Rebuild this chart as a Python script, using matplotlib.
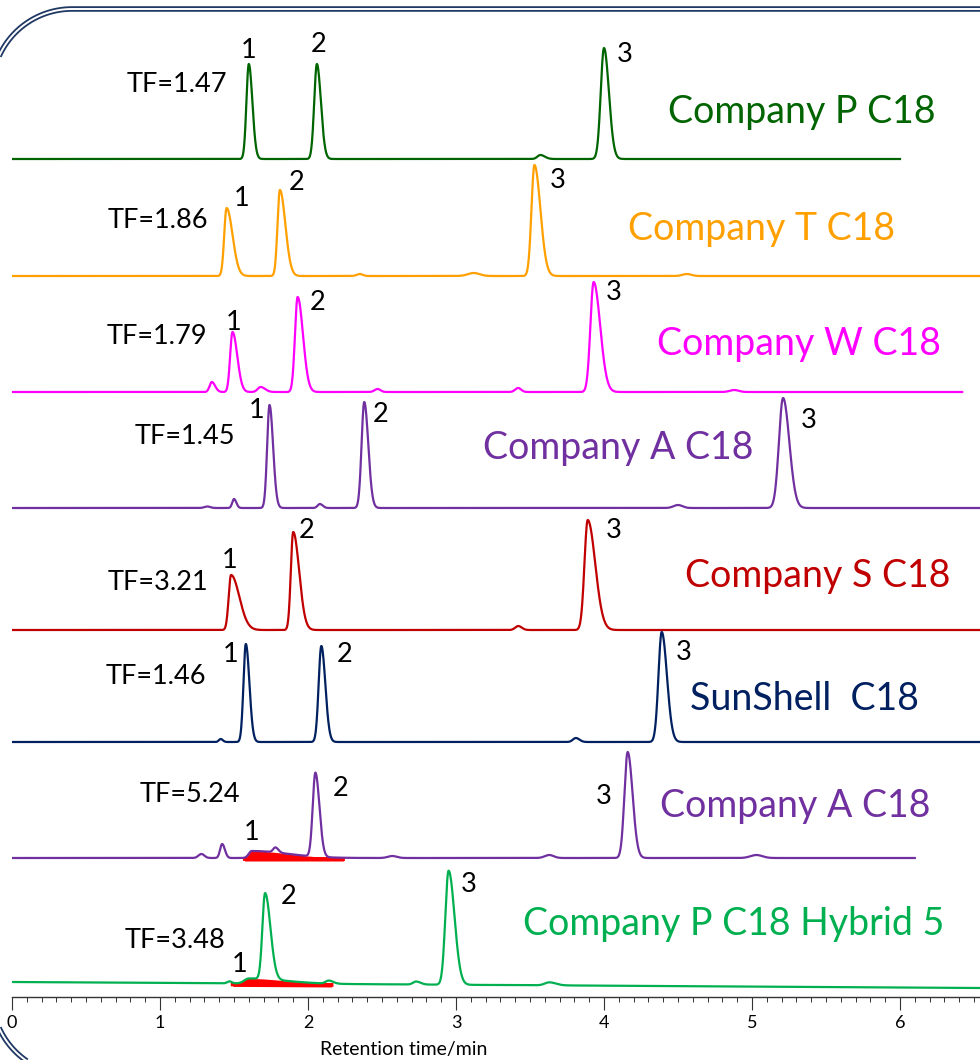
import numpy as np
import matplotlib
matplotlib.use("Agg")
import matplotlib.pyplot as plt
from matplotlib.ticker import MultipleLocator

plt.rcParams['font.family'] = ['Lato', 'DejaVu Sans']

# ---- data: stacked chromatograms (time in min, signal in arbitrary units) ----
NAMES = ["Company P C18", "Company T C18", "Company W C18", "Company A C18",
         "Company S C18", "SunShell  C18", "Company A C18", "Company P C18 Hybrid 5"]
COLORS = ["#006400", "#FFA000", "#FF00FF", "#7030A0",
          "#C00000", "#002060", "#7030A0", "#00B050"]
TF_VALUES = ["1.47", "1.86", "1.79", "1.45", "3.21", "1.46", "5.24", "3.48"]
OFFSETS = [838, 721, 605, 489, 367, 255, 139, 15]
DRIFT = [0, 0, 0, 0, 0, 0, 0, -6]
END_TIMES = [6.0, 6.54, 6.42, 6.54, 6.54, 6.54, 6.10, 6.54]

PEAK_T = [
    [1.60, 2.06, 3.57, 4.00],
    [1.45, 1.81, 2.35, 3.12, 3.53, 4.56],
    [1.35, 1.49, 1.68, 1.93, 2.47, 3.42, 3.93, 4.88],
    [1.32, 1.50, 1.74, 2.08, 2.38, 4.50, 5.21],
    [1.48, 1.90, 3.42, 3.89],
    [1.41, 1.58, 2.09, 3.81, 4.39],
    [1.28, 1.42, 1.62, 1.78, 2.05, 2.57, 3.63, 4.16, 5.03],
    [1.47, 1.60, 1.71, 2.14, 2.73, 2.95, 3.63],
]
PEAK_H = [
    [95, 95, 4, 111],
    [68, 86, 2, 3, 111, 2],
    [10, 60, 5, 95, 3, 4, 110, 2],
    [1.5, 9, 103, 4, 106, 3, 110],
    [55, 98, 4, 110],
    [3, 98, 96, 4, 110],
    [4, 14, 7, 5, 84, 2, 3, 106, 3],
    [2, 5, 86, 3, 3, 114, 3],
]
PEAK_W = [
    [0.016, 0.018, 0.02, 0.022],
    [0.016, 0.016, 0.02, 0.04, 0.02, 0.03],
    [0.015, 0.016, 0.02, 0.018, 0.02, 0.02, 0.022, 0.03],
    [0.02, 0.012, 0.016, 0.015, 0.018, 0.03, 0.028],
    [0.016, 0.016, 0.02, 0.022],
    [0.012, 0.016, 0.018, 0.02, 0.022],
    [0.02, 0.014, 0.02, 0.015, 0.018, 0.03, 0.03, 0.022, 0.04],
    [0.015, 0.03, 0.018, 0.02, 0.02, 0.022, 0.03],
]
PEAK_TAIL = [
    [1.5, 1.5, 1.5, 1.5],
    [2.5, 2.3, 1.0, 1.0, 2.0, 1.0],
    [1.5, 2.0, 1.5, 2.0, 1.0, 1.0, 2.0, 1.0],
    [1.0, 1.3, 1.5, 1.3, 1.5, 1.0, 1.5],
    [3.5, 2.5, 1.2, 2.3],
    [1.2, 1.5, 1.5, 1.2, 1.6],
    [1.0, 1.3, 12.0, 1.3, 1.5, 1.0, 1.0, 1.5, 1.0],
    [1.0, 8.0, 2.0, 1.5, 1.5, 1.8, 1.5],
]
# integrated (shaded) peak 1 for the two badly tailing columns
FILL_PEAK = [None, None, None, None, None, None, 2, 1]
FILL_START = [None, None, None, None, None, None, 1.57, 1.49]
FILL_END = [None, None, None, None, None, None, 2.24, 2.16]

# ---- layout: text positions (min, signal units) ----
NAME_POS = [(4.43, 874), (4.16, 757), (4.36, 642), (3.18, 538),
            (4.55, 410), (4.58, 287), (4.38, 180), (3.45, 62)]
TF_POS = [(1.115, 912), (0.986, 777), (0.980, 661), (1.169, 561),
          (0.986, 414), (0.973, 321), (1.203, 202), (1.101, 57)]
NUM_POS = [
    [(1.601, 947), (2.074, 952), (4.142, 942)],
    [(1.554, 798), (1.926, 814), (3.689, 816)],
    [(1.500, 675), (2.068, 695), (4.068, 704)],
    [(1.655, 587), (2.493, 582), (5.385, 577)],
    [(1.473, 437), (1.993, 466), (4.068, 467)],
    [(1.480, 343), (2.250, 343), (4.541, 345)],
    [(1.622, 165), (2.223, 209), (4.000, 200)],
    [(1.541, 32), (1.872, 100), (3.088, 112)],
]


def peak(t, t0, h, s, tail):
    sig = np.where(t < t0, s, s * tail)
    return h * np.exp(-0.5 * ((t - t0) / sig) ** 2)


W, H = 980, 1060
fig = plt.figure(figsize=(W / 100, H / 100), dpi=100)
ax = fig.add_axes([12 / W, (H - 997) / H, 968 / W, 997 / H])
xmax = 968 / 148
ax.set_xlim(0, xmax)
ax.set_ylim(0, 997)

for i in range(len(NAMES)):
    t = np.linspace(0, END_TIMES[i], 4000)
    base = OFFSETS[i] + DRIFT[i] * t / xmax
    y = base.copy()
    for t0, h, s, tl in zip(PEAK_T[i], PEAK_H[i], PEAK_W[i], PEAK_TAIL[i]):
        y = y + peak(t, t0, h, s, tl)
    ax.plot(t, y, color=COLORS[i], lw=1.6, zorder=3)

    k = FILL_PEAK[i]
    if k is not None:
        m = (t >= FILL_START[i]) & (t <= FILL_END[i])
        comp = peak(t[m], PEAK_T[i][k], PEAK_H[i][k], PEAK_W[i][k], PEAK_TAIL[i][k])
        ax.fill_between(t[m], base[m] - 3, base[m] + comp, color="red", lw=0, zorder=2)
        ax.plot(t[m], base[m] - 1, color="red", lw=2.8, zorder=2)

    ax.text(NAME_POS[i][0], NAME_POS[i][1], NAMES[i], color=COLORS[i],
            fontsize=27, ha="left", va="baseline", clip_on=False)
    ax.text(TF_POS[i][0], TF_POS[i][1], "TF=" + TF_VALUES[i], color="black",
            fontsize=19.5, ha="center", va="center")
    for n, (px, py) in enumerate(NUM_POS[i]):
        ax.text(px, py, str(n + 1), color="black", fontsize=19.5, ha="center", va="center")

for s in ["top", "left", "right"]:
    ax.spines[s].set_visible(False)
ax.spines["bottom"].set_linewidth(1.0)
ax.spines["bottom"].set_color("#333333")
ax.set_yticks([])
ax.xaxis.set_major_locator(MultipleLocator(1))
ax.xaxis.set_minor_locator(MultipleLocator(0.1))
ax.tick_params(axis="x", which="major", direction="out", length=9, width=0.8,
               labelsize=13, pad=4, color="#333333")
ax.tick_params(axis="x", which="minor", direction="out", length=3.5, width=0.7,
               color="#333333")
ax.patch.set_alpha(0)
fig.text(404 / W, 1 - 1050 / H, "Retention time/min", fontsize=14,
         ha="center", va="center")

# decorative rounded double border, drawn on a pixel-space overlay
ov = fig.add_axes([0, 0, 1, 1], zorder=5)
ov.set_xlim(0, W)
ov.set_ylim(H, 0)
ov.axis("off")
ov.patch.set_alpha(0)
R, left, top, bottom = 80, -8, 9, 1075
cx = left + R
th = np.linspace(0, np.pi / 2, 60)
fx = np.concatenate([cx - R * np.sin(th), cx - R * np.cos(th), [W + 20]])
fy = np.concatenate([(bottom - R) + R * np.cos(th), (top + R) - R * np.sin(th), [top]])
for lw, col in [(4.0, "#1F3864"), (1.4, "white")]:
    ov.plot(fx, fy, color=col, lw=lw, solid_capstyle="butt", clip_on=False)

fig.savefig("out.png", dpi=100, facecolor="white")
